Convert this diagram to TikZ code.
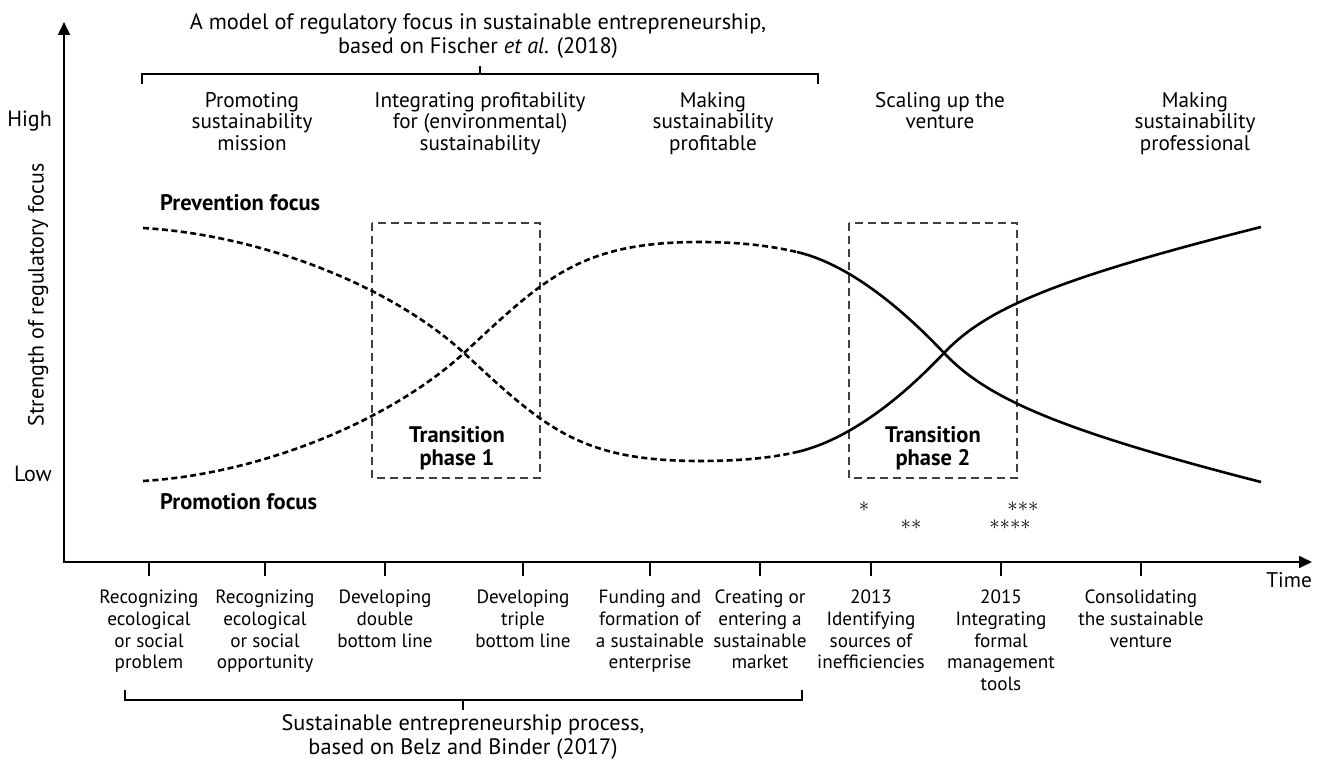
\documentclass[tikz,border=0pt]{standalone}
\usepackage{fontspec}
\setmainfont{PT Sans}
\usetikzlibrary{arrows.meta}

\tikzset{
  steplbl/.style={font=\fontsize{19.2}{21.7}\selectfont, align=center, inner sep=0pt},
  toplbl/.style={font=\fontsize{21.2}{21.7}\selectfont, align=center, inner sep=0pt},
  axislbl/.style={font=\fontsize{22}{24}\selectfont, inner sep=0pt},
  ttl/.style={font=\fontsize{22.3}{24.5}\selectfont, align=center, inner sep=0pt},
  focuslbl/.style={font=\fontsize{22.5}{24}\selectfont\bfseries, anchor=west, inner sep=0pt},
  phaselbl/.style={font=\fontsize{22.5}{23}\selectfont\bfseries, align=center, inner sep=0pt},
  marklbl/.style={font=\fontsize{20.5}{22}\selectfont, inner sep=0pt},
  axisline/.style={line width=1.6pt, {Triangle[length=13pt,width=12pt]}-{Triangle[length=13pt,width=12pt]}},
  tickline/.style={line width=1.2pt},
  brace/.style={line width=1.2pt},
  phasebox/.style={draw=black!75, line width=1.2pt, dash pattern=on 8pt off 5pt},
  oldcurve/.style={line width=2.6pt, dash pattern=on 6pt off 3.5pt},
  newcurve/.style={line width=2.6pt},
}

\begin{document}
\begin{tikzpicture}[x=1pt, y=-1pt]
			%%%%% START %%%%%
			\useasboundingbox (0,0) rectangle (1320,759);
			
			% axes
			\coordinate (ytop) at (64,22);
			\coordinate (origin) at (64,562);
			\coordinate (xtip) at (1312,562);
			\draw[axisline] (ytop) -- (origin) -- (xtip);
			
			\node[axislbl, anchor=base east] (high) at (52,127) {High};
			\node[axislbl, anchor=base east] (low) at (52,481) {Low};
			\node[axislbl, rotate=90] (ylabel) at (38,295) {Strength of regulatory focus};
			\node[toplbl, anchor=base east] (time) at (1312,587) {Time};
			
			% top bracket
			\node[ttl, anchor=north] (fischer) at (478,13) {A model of regulatory focus in sustainable entrepreneurship,\\ based on Fischer \textit{et al}. (2018)};
			\coordinate (tbl) at (142,84);
			\coordinate (tbr) at (818,84);
			\coordinate (tbm) at (480,74);
			\draw[brace] (tbl) -- ++(0,-10) -| (tbr);
			\draw[brace] (tbm) -- ++(0,-8);
			
			% phases of regulatory focus
			\node[toplbl, anchor=north] (promoting) at (252,92) {Promoting\\ sustainability\\ mission};
			\node[toplbl, anchor=north] (integrating) at (480,92) {Integrating profitability\\ for (environmental)\\ sustainability};
			\node[toplbl, anchor=north] (profitable) at (713,92) {Making\\ sustainability\\ profitable};
			\node[toplbl, anchor=north] (scaling) at (940,92) {Scaling up the\\ venture};
			\node[toplbl, anchor=north] (professional) at (1195,92) {Making\\ sustainability\\ professional};
			
			% transition boxes
			\draw[phasebox] (372,223) rectangle (540,478);
			\node[phaselbl, anchor=north] (phase1) at (457,426) {Transition\\ phase 1};
			\draw[phasebox] (849,223) rectangle (1017,478);
			\node[phaselbl, anchor=north] (phase2) at (933,426) {Transition\\ phase 2};
			
			\node[focuslbl] (prevention) at (160,203) {Prevention focus};
			\node[focuslbl] (promotion) at (160,502) {Promotion focus};
			
			% prevention focus curve
			\draw[oldcurve] (143,228) .. controls (260,235) and (390,285) .. (464,353)
				.. controls (545,428) and (580,461) .. (700,461)
				.. controls (745,461) and (775,457) .. (797,452);
			\draw[newcurve] (797,452) .. controls (840,442) and (890,410) .. (944,353)
				.. controls (985,310) and (1050,280) .. (1261,227);
			
			% promotion focus curve
			\draw[oldcurve] (143,481) .. controls (260,474) and (390,421) .. (464,353)
				.. controls (545,278) and (580,242) .. (700,242)
				.. controls (745,242) and (775,247) .. (797,252);
			\draw[newcurve] (797,252) .. controls (840,262) and (890,296) .. (944,353)
				.. controls (985,396) and (1050,428) .. (1261,482);
			
			% footnote marks
			\node[marklbl] (mark1) at (864,507) {${\ast}$};
			\node[marklbl] (mark2) at (911,525) {${\ast}{\ast}$};
			\node[marklbl] (mark3) at (1023,507) {${\ast}{\ast}{\ast}$};
			\node[marklbl] (mark4) at (1010,525) {${\ast}{\ast}{\ast}{\ast}$};
			
			% time axis steps
			\coordinate (t1) at (149,562);
			\coordinate (t2) at (265,562);
			\coordinate (t3) at (385,562);
			\coordinate (t4) at (523,562);
			\coordinate (t5) at (650,562);
			\coordinate (t6) at (760,562);
			\coordinate (t7) at (871,562);
			\coordinate (t8) at (1001,562);
			\coordinate (t9) at (1141,562);
			\draw[tickline] (t1) -- ++(0,14);
			\draw[tickline] (t2) -- ++(0,14);
			\draw[tickline] (t3) -- ++(0,14);
			\draw[tickline] (t4) -- ++(0,14);
			\draw[tickline] (t5) -- ++(0,14);
			\draw[tickline] (t6) -- ++(0,14);
			\draw[tickline] (t7) -- ++(0,14);
			\draw[tickline] (t8) -- ++(0,14);
			\draw[tickline] (t9) -- ++(0,14);
			
			\node[steplbl, anchor=north] (problem) at (149,590) {Recognizing\\ ecological\\ or social\\ problem};
			\node[steplbl, anchor=north] (opportunity) at (265,590) {Recognizing\\ ecological\\ or social\\ opportunity};
			\node[steplbl, anchor=north] (double) at (385,590) {Developing\\ double\\ bottom line};
			\node[steplbl, anchor=north] (triple) at (523,590) {Developing\\ triple\\ bottom line};
			\node[steplbl, anchor=north] (funding) at (650,590) {Funding and\\ formation of\\ a sustainable\\ enterprise};
			\node[steplbl, anchor=north] (market) at (760,590) {Creating or\\ entering a\\ sustainable\\ market};
			\node[steplbl, anchor=north] (sources) at (871,590) {2013\\ Identifying\\ sources of\\ inefficiencies};
			\node[steplbl, anchor=north] (tools) at (1001,590) {2015\\ Integrating\\ formal\\ management\\ tools};
			\node[steplbl, anchor=north] (consolidating) at (1141,590) {Consolidating\\ the sustainable\\ venture};
			
			% bottom bracket
			\coordinate (bbl) at (125,690);
			\coordinate (bbr) at (802,690);
			\coordinate (bbm) at (463,700);
			\draw[brace] (bbl) -- ++(0,10) -| (bbr);
			\draw[brace] (bbm) -- ++(0,10);
			\node[ttl, anchor=north] (belz) at (463,714) {Sustainable entrepreneurship process,\\ based on Belz and Binder (2017)};
			
			%%%%% END %%%%%
\end{tikzpicture}
\end{document}
